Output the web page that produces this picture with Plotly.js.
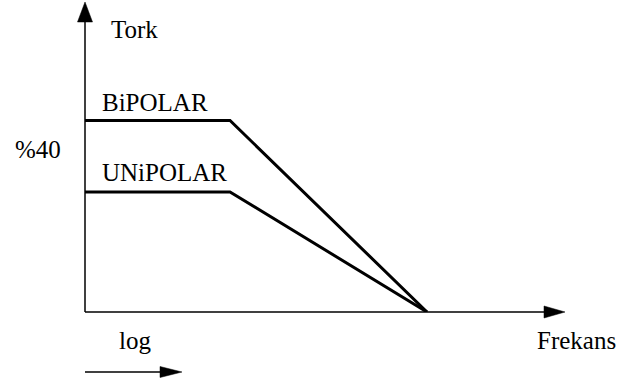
<!DOCTYPE html>
<html>
<head>
<meta charset="utf-8">
<script src="https://cdn.plot.ly/plotly-3.0.1.min.js"></script>
<style>html,body{margin:0;padding:0;background:#fff;}#chart{width:624px;height:387px;}</style>
</head>
<body>
<div id="chart"></div>
<script>
// Data (arbitrary units)
const frequency = [0, 42.4, 100];
const bipolarTorque = [100, 100, 0];
const unipolarTorque = [62.7, 62.7, 0];
const seriesNames = ["BiPOLAR", "UNiPOLAR"];
const labels = {yTitle: "Tork", xTitle: "Frekans", pct: "%40", logNote: "log"};

const FONT = "Liberation Serif";
const FS = 25;

const traces = [
  {x: frequency, y: bipolarTorque, mode: "lines", name: seriesNames[0],
   line: {color: "#000", width: 3}, hoverinfo: "skip"},
  {x: frequency, y: unipolarTorque, mode: "lines", name: seriesNames[1],
   line: {color: "#000", width: 3}, hoverinfo: "skip"}
];

function ann(text, x, y) {
  return {text: text, xref: "paper", yref: "paper", x: x, y: y,
          xanchor: "left", yanchor: "middle", showarrow: false,
          font: {family: FONT, size: FS, color: "#000"}};
}

const layout = {
  width: 624, height: 387,
  margin: {l: 85, r: 59, t: 2, b: 75},
  paper_bgcolor: "#fff", plot_bgcolor: "#fff",
  showlegend: false,
  font: {family: FONT},
  xaxis: {range: [0, 140.35], visible: false, fixedrange: true},
  yaxis: {range: [0, 161.9], visible: false, fixedrange: true},
  shapes: [
    {type: "line", xref: "paper", yref: "paper", x0: 0, x1: 0, y0: 0, y1: 0.96, line: {color: "#000", width: 1.5}},
    {type: "line", xref: "paper", yref: "paper", x0: 0, x1: 0.98, y0: 0, y1: 0, line: {color: "#000", width: 1.5}},
    {type: "path", xref: "paper", yref: "paper", path: "M0,1 L-0.015625,0.93548 L0.015625,0.93548 Z", fillcolor: "#000", line: {color: "#000", width: 0.5}},
    {type: "path", xref: "paper", yref: "paper", path: "M1,0 L0.95625,0.019355 L0.95625,-0.019355 Z", fillcolor: "#000", line: {color: "#000", width: 0.5}},
    {type: "line", xref: "paper", yref: "paper", x0: 0, x1: 0.18, y0: -0.19355, y1: -0.19355, line: {color: "#000", width: 1.5}},
    {type: "path", xref: "paper", yref: "paper", path: "M0.20208,-0.19355 L0.15625,-0.17581 L0.15625,-0.21129 Z", fillcolor: "#000", line: {color: "#000", width: 0.5}}
  ],
  annotations: [
    ann(labels.yTitle, 0.0500, 0.9129),
    ann(seriesNames[0], 0.03125, 0.6774),
    ann(labels.pct, -0.15, 0.5258),
    ann(seriesNames[1], 0.03125, 0.4485),
    ann(labels.logNote, 0.0667, -0.0935),
    ann(labels.xTitle, 0.9375, -0.0935)
  ]
};

Plotly.newPlot("chart", traces, layout, {displayModeBar: false, staticPlot: true});
</script>
</body>
</html>
